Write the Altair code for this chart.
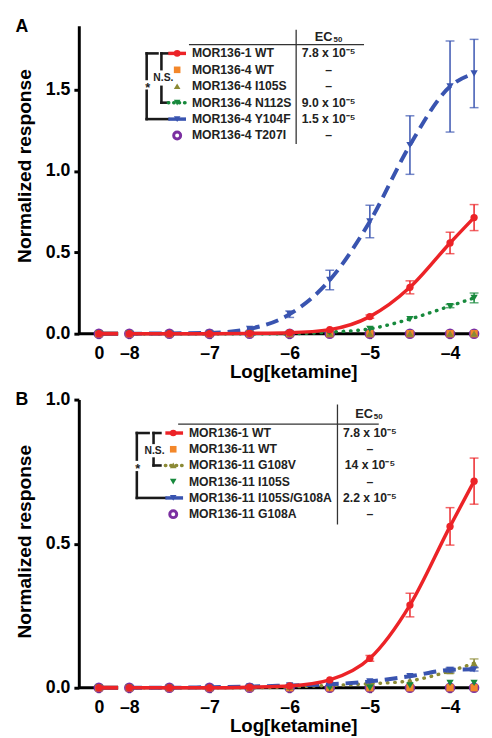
import altair as alt
import pandas as pd

FONT = "Liberation Sans"

# ---------------- x layout (broken axis: control "0" sits left of the break) ----------------
CTRL_POS = -8.38
BREAK_L, BREAK_R = -8.14, -8.03
X_MIN, X_MAX = -8.63, -3.65

# first entry of every series = no-drug control ("0"), then these log doses
log_ketamine = [-8.0, -7.5, -7.0, -6.5, -6.0, -5.5, -5.0, -4.5, -4.0, -3.7]
x_tick_values = [-8, -7, -6, -5, -4]

RED, ORANGE, OLIVE, GREEN, BLUE, PURPLE = "#ec2327", "#f3872a", "#8b8a35", "#17893c", "#3954b0", "#7b2fa1"

# ---------------- Panel A ----------------
a_names = ["MOR136-1 WT", "MOR136-4 WT", "MOR136-4 I105S", "MOR136-4 N112S", "MOR136-4 Y104F", "MOR136-4 T207I"]
a_ec50 = ["7.8 x 10⁻⁵", "–", "–", "9.0 x 10⁻⁵", "1.5 x 10⁻⁵", "–"]
a_mor1_wt = [0.0, 0.0, 0.0, 0.0, 0.002, 0.006, 0.025, 0.105, 0.285, 0.558, 0.714]
a_mor1_wt_err = [0, 0, 0, 0, 0, 0, 0, 0.01, 0.04, 0.066, 0.08]
a_wt = [0.0, 0.0, 0.0, 0.0, 0.0, 0.0, 0.0, 0.0, 0.0, 0.0, 0.0]
a_i105s = [0.0, 0.0, 0.0, 0.0, 0.0, 0.0, 0.0, 0.0, 0.0, 0.0, 0.0]
a_n112s = [0.0, 0.0, 0.0, 0.0, 0.0, 0.0, 0.01, 0.03, 0.09, 0.17, 0.22]
a_n112s_err = [0, 0, 0, 0, 0, 0, 0, 0, 0, 0.01, 0.03]
a_y104f = [0.0, 0.0, 0.002, 0.005, 0.03, 0.12, 0.33, 0.69, 1.16, 1.52, 1.60]
a_y104f_err = [0, 0, 0, 0, 0, 0.02, 0.06, 0.10, 0.18, 0.28, 0.21]
a_t207i = [0.0, 0.0, 0.0, 0.0, 0.0, 0.0, 0.0, 0.0, 0.0, 0.0, 0.0]

# ---------------- Panel B ----------------
b_names = ["MOR136-1 WT", "MOR136-11 WT", "MOR136-11 G108V", "MOR136-11 I105S", "MOR136-11 I105S/G108A", "MOR136-11 G108A"]
b_ec50 = ["7.8 x 10⁻⁵", "–", "14 x 10⁻⁵", "–", "2.2 x 10⁻⁵", "–"]
b_mor1_wt = [0.0, 0.0, 0.0, 0.0, 0.002, 0.006, 0.027, 0.102, 0.287, 0.56, 0.717]
b_mor1_wt_err = [0, 0, 0, 0, 0, 0, 0, 0.01, 0.041, 0.065, 0.08]
b_wt = [0.0, 0.0, 0.0, 0.0, 0.0, 0.0, 0.0, 0.0, 0.0, 0.0, 0.0]
b_g108v = [0.0, 0.0, 0.0, 0.0, 0.0, 0.003, 0.008, 0.014, 0.024, 0.058, 0.085]
b_g108v_err = [0, 0, 0, 0, 0, 0, 0, 0, 0, 0.008, 0.015]
b_i105s = [0.0, 0.0, 0.0, 0.0, 0.0, 0.0, 0.0, 0.0, 0.008, 0.017, 0.017]
b_i105s_g108a = [0.0, 0.0, 0.0, 0.002, 0.004, 0.008, 0.012, 0.022, 0.040, 0.062, 0.064]
b_i105s_g108a_err = [0, 0, 0, 0, 0, 0, 0, 0, 0, 0.008, 0.006]
b_g108a = [0.0, 0.0, 0.0, 0.0, 0.0, 0.0, 0.0, 0.0, 0.0, 0.0, 0.0]

ZEROS = [0, 0, 0, 0, 0, 0, 0, 0, 0, 0, 0]

# series spec: (values, errors, color, shape, filled, line style)
a_series = [
    (a_mor1_wt, a_mor1_wt_err, RED, "circle", True, "solid"),
    (a_wt, ZEROS, ORANGE, "square", True, None),
    (a_i105s, ZEROS, OLIVE, "triangle-up", True, None),
    (a_n112s, a_n112s_err, GREEN, "triangle-down", True, "dotted"),
    (a_y104f, a_y104f_err, BLUE, "triangle-down", True, "dashed"),
    (a_t207i, ZEROS, PURPLE, "circle", False, None),
]
b_series = [
    (b_mor1_wt, b_mor1_wt_err, RED, "circle", True, "solid"),
    (b_wt, ZEROS, ORANGE, "square", True, None),
    (b_g108v, b_g108v_err, OLIVE, "triangle-up", True, "dotted"),
    (b_i105s, ZEROS, GREEN, "triangle-down", True, None),
    (b_i105s_g108a, b_i105s_g108a_err, BLUE, "triangle-down", True, "dashed"),
    (b_g108a, ZEROS, PURPLE, "circle", False, None),
]
# drawing order (bottom -> top)
draw_order = [5, 1, 2, 3, 4, 0]

LINE_STYLE = {
    "solid": dict(strokeWidth=3.5),
    "dashed": dict(strokeWidth=4, strokeDash=[13, 7]),
    "dotted": dict(strokeWidth=3.5, strokeDash=[0.5, 7], strokeCap="round"),
}

# legend geometry (pixels relative to plot area)
a_leg = dict(row0=28, dy=16.7, label_x=115, sym_x=100, line_x0=91, line_x1=109, ec_x=254,
             div_x=221, div_y=(4, 120), head_x=(112, 290), head_y=19, ec_head=(258, 11),
             outer_x=69, outer_rows=(0, 4), outer_gap=(54, 66), outer_h=(80, 91), star_y=60,
             inner_x=84, inner_rows=(0, 3), inner_gap=(44, 62), inner_h=(91, 91), ns=(86, 53))
b_leg = dict(row0=34, dy=16.5, label_x=112, sym_x=96, line_x0=88, line_x1=106, ec_x=296,
             div_x=263, div_y=(5, 127), head_x=(101, 305), head_y=25, ec_head=(299, 15),
             outer_x=59, outer_rows=(0, 4), outer_gap=(61, 74), outer_h=(71, 88), star_y=68,
             inner_x=76, inner_rows=(0, 2), inner_gap=(44, 60), inner_h=(83, 83), ns=(77, 52))

LEG_FS = 12.4


def build_panel(letter, names, ec50s, series, y_max, y_ticks, height, leg, title_y):
    xscale = alt.Scale(domain=[X_MIN, X_MAX], nice=False, zero=False)
    xaxis = alt.Axis(values=[CTRL_POS] + x_tick_values,
                     labelExpr="datum.value < -8.2 ? '0' : '–' + abs(datum.value)",
                     domain=False, grid=False, tickSize=5, tickWidth=3, tickColor="black",
                     labelFont=FONT, labelFontSize=18, labelFontWeight="bold", labelColor="black",
                     labelPadding=6, titleFont=FONT, titleFontSize=19, titleFontWeight="bold",
                     titleColor="black", titlePadding=1, titleX=218)
    yscale = alt.Scale(domain=[0, y_max], nice=False, zero=True)
    yaxis = alt.Axis(values=y_ticks, format=".1f", grid=False, domainWidth=3, domainColor="black",
                     tickSize=5, tickWidth=3, tickColor="black",
                     labelFont=FONT, labelFontSize=18, labelFontWeight="bold", labelColor="black",
                     labelPadding=4, titleFont=FONT, titleFontSize=19.5, titleFontWeight="bold",
                     titleColor="black", titlePadding=11, titleY=title_y)

    def X(f):
        return alt.X(f, scale=xscale, axis=xaxis, title="Log[ketamine]")

    def Y(f):
        return alt.Y(f, scale=yscale, axis=yaxis, title="Normalized response")

    layers = []
    # broken x-axis line
    axis_df = pd.DataFrame({"x": [X_MIN, BREAK_R], "x2": [BREAK_L, X_MAX], "y": [0, 0]})
    layers.append(alt.Chart(axis_df).mark_rule(color="black", strokeWidth=3)
                  .encode(x=X("x:Q"), x2="x2:Q", y=Y("y:Q")))

    for i in draw_order:
        vals, errs, color, shape, filled, style = series[i]
        df = pd.DataFrame({"x": [CTRL_POS] + log_ketamine, "y": vals, "err": errs})
        df["lo"] = df["y"] - df["err"]
        df["hi"] = df["y"] + df["err"]
        if style:
            main = df[df["x"] >= -8.0]
            layers.append(alt.Chart(main).mark_line(color=color, interpolate="monotone",
                                                    **LINE_STYLE[style])
                          .encode(x=X("x:Q"), y=Y("y:Q")))
            ctrl = pd.DataFrame({"x": [CTRL_POS, BREAK_L], "y": [vals[0], vals[0]]})
            layers.append(alt.Chart(ctrl).mark_line(color=color, strokeWidth=4)
                          .encode(x=X("x:Q"), y=Y("y:Q")))
        eb = df[df["err"] > 0]
        if len(eb):
            layers.append(alt.Chart(eb).mark_rule(color=color, strokeWidth=1.5)
                          .encode(x=X("x:Q"), y=Y("lo:Q"), y2="hi:Q"))
            caps = pd.concat([eb[["x"]].assign(c=eb["lo"]), eb[["x"]].assign(c=eb["hi"])])
            layers.append(alt.Chart(caps).mark_tick(color=color, orient="horizontal", size=9,
                                                    thickness=1.5)
                          .encode(x=X("x:Q"), y=Y("c:Q")))
        if filled:
            pm = alt.Chart(df).mark_point(shape=shape, filled=True, size=55, color=color, opacity=1)
        else:
            pm = alt.Chart(df).mark_point(shape=shape, filled=False, size=60, color=color,
                                          strokeWidth=3, opacity=1)
        layers.append(pm.encode(x=X("x:Q"), y=Y("y:Q")))

    # ---------------- legend table (pixel positions) ----------------
    rows_y = [leg["row0"] + leg["dy"] * k for k in range(len(names))]
    P = lambda f: alt.X(f, scale=None)
    Q = lambda f: alt.Y(f, scale=None)

    lab_df = pd.DataFrame({"t": names, "px": leg["label_x"], "py": rows_y})
    layers.append(alt.Chart(lab_df).mark_text(font=FONT, fontSize=LEG_FS, fontWeight="bold",
                                              align="left", baseline="middle", color="#222")
                  .encode(x=P("px:Q"), y=Q("py:Q"), text="t:N"))
    ec_df = pd.DataFrame({"t": ec50s, "px": leg["ec_x"], "py": rows_y})
    layers.append(alt.Chart(ec_df).mark_text(font=FONT, fontSize=LEG_FS, fontWeight="bold",
                                             align="center", baseline="middle", color="#222")
                  .encode(x=P("px:Q"), y=Q("py:Q"), text="t:N"))
    hdr = pd.DataFrame({"t": ["EC"], "px": [leg["ec_head"][0]], "py": [leg["ec_head"][1]]})
    layers.append(alt.Chart(hdr).mark_text(font=FONT, fontSize=13, fontWeight="bold",
                                           align="right", baseline="middle", color="#222")
                  .encode(x=P("px:Q"), y=Q("py:Q"), text="t:N"))
    sub = pd.DataFrame({"t": ["50"], "px": [leg["ec_head"][0] + 1], "py": [leg["ec_head"][1] + 3]})
    layers.append(alt.Chart(sub).mark_text(font=FONT, fontSize=8, fontWeight="bold",
                                           align="left", baseline="middle", color="#222")
                  .encode(x=P("px:Q"), y=Q("py:Q"), text="t:N"))

    # table lines
    tl = pd.DataFrame({
        "x1": [leg["head_x"][0], leg["div_x"]], "x2": [leg["head_x"][1], leg["div_x"]],
        "y1": [leg["head_y"], leg["div_y"][0]], "y2": [leg["head_y"], leg["div_y"][1]]})
    layers.append(alt.Chart(tl).mark_rule(color="#333", strokeWidth=1.3)
                  .encode(x=P("x1:Q"), x2="x2:Q", y=Q("y1:Q"), y2="y2:Q"))

    # brackets
    ox, ix = leg["outer_x"], leg["inner_x"]
    oy0, oy1 = rows_y[leg["outer_rows"][0]], rows_y[leg["outer_rows"][1]]
    iy0, iy1 = rows_y[leg["inner_rows"][0]], rows_y[leg["inner_rows"][1]]
    br = pd.DataFrame({
        "x1": [ox, ox, ox, ox, ix, ix, ix, ix],
        "x2": [ox, ox, leg["outer_h"][0], leg["outer_h"][1], ix, ix, leg["inner_h"][0], leg["inner_h"][1]],
        "y1": [oy0, leg["outer_gap"][1], oy0, oy1, iy0, leg["inner_gap"][1], iy0, iy1],
        "y2": [leg["outer_gap"][0], oy1, oy0, oy1, leg["inner_gap"][0], iy1, iy0, iy1]})
    layers.append(alt.Chart(br).mark_rule(color="#1a1a1a", strokeWidth=2.6, strokeCap="square")
                  .encode(x=P("x1:Q"), x2="x2:Q", y=Q("y1:Q"), y2="y2:Q"))
    marks_df = pd.DataFrame({"t": ["*", "N.S."], "px": [ox + 1, leg["ns"][0]],
                             "py": [leg["star_y"] + 3, leg["ns"][1]], "fs": [13, 10.5]})
    layers.append(alt.Chart(marks_df).mark_text(font=FONT, fontWeight="bold", align="center",
                                                baseline="middle", color="#222")
                  .encode(x=P("px:Q"), y=Q("py:Q"), text="t:N",
                          size=alt.Size("fs:Q", scale=None)))

    # legend symbols
    for k, (vals, errs, color, shape, filled, style) in enumerate(series):
        ry = rows_y[k]
        if style:
            seg = pd.DataFrame({"x1": [leg["line_x0"]], "x2": [leg["line_x1"]], "y": [ry]})
            sty = dict(strokeWidth=3.5)
            if style == "dotted":
                sty = dict(strokeWidth=3.5, strokeDash=[0.5, 5], strokeCap="round")
            layers.append(alt.Chart(seg).mark_rule(color=color, **sty)
                          .encode(x=P("x1:Q"), x2="x2:Q", y=Q("y:Q")))
        sp = pd.DataFrame({"px": [leg["sym_x"]], "py": [ry]})
        if filled:
            m = alt.Chart(sp).mark_point(shape=shape, filled=True, size=45, color=color, opacity=1)
        else:
            m = alt.Chart(sp).mark_point(shape=shape, filled=False, size=50, color=color,
                                         strokeWidth=3, opacity=1)
        layers.append(m.encode(x=P("px:Q"), y=Q("py:Q")))

    # panel letter
    let = pd.DataFrame({"t": [letter], "px": [-58], "py": [1]})
    layers.append(alt.Chart(let).mark_text(font=FONT, fontSize=18, fontWeight="bold",
                                           align="center", baseline="middle", color="black")
                  .encode(x=P("px:Q"), y=Q("py:Q"), text="t:N"))

    return alt.layer(*layers).properties(width=406, height=height)


panel_a = build_panel("A", a_names, a_ec50, a_series, 1.893, [0, 0.5, 1.0, 1.5], 313, a_leg, 142)
panel_b = build_panel("B", b_names, b_ec50, b_series, 1.0, [0, 0.5, 1.0], 293, b_leg, 144)

chart = (alt.vconcat(panel_a, panel_b, spacing=9)
         .properties(padding={"left": 6, "top": 4, "right": 0, "bottom": 0}, background="white")
         .configure_view(stroke=None))

chart.save("out.html", embed_options={"renderer": "svg", "actions": False})
